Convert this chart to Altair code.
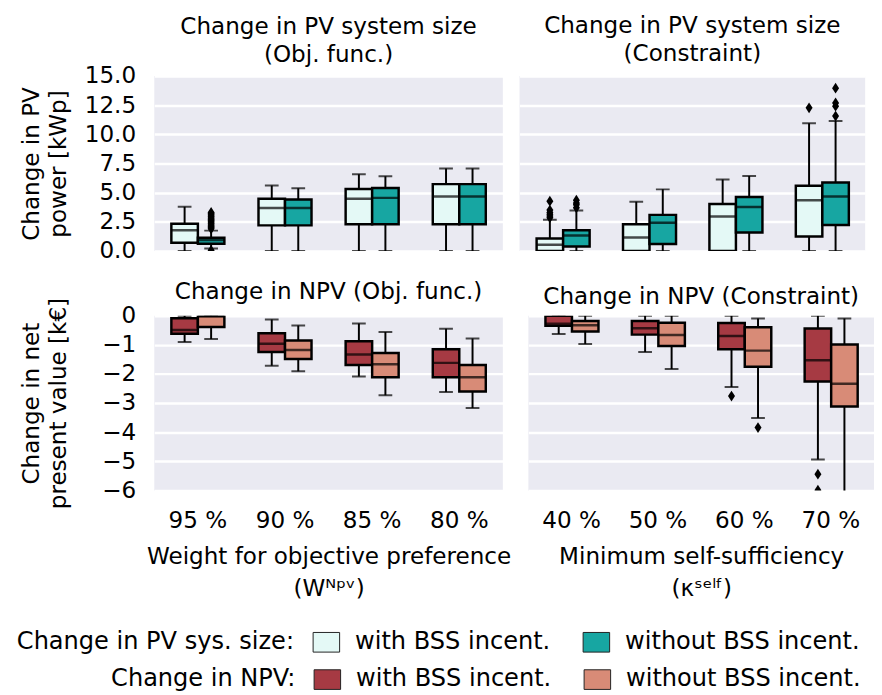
import altair as alt
import pandas as pd

FONT = "DejaVu Sans"
FS = 23.5
LFS = 24.5

cats_obj = ["95 %", "90 %", "85 %", "80 %"]
cats_con = ["40 %", "50 %", "60 %", "70 %"]
pv_hues = ["with BSS incent.", "without BSS incent."]
npv_hues = ["NPV with BSS incent.", "NPV without BSS incent."]

pv_colors = ["#e4f9f6", "#17a6a2"]
npv_colors = ["#a63a43", "#d88b77"]

# ---- Change in PV power [kWp], objective function ----
pv_obj_with = dict(lo=[0.0, 0.0, 0.0, 0.0], q1=[0.70, 2.19, 2.28, 2.28],
                   med=[1.77, 3.68, 4.47, 4.66], q3=[2.33, 4.47, 5.31, 5.73],
                   hi=[3.79, 5.62, 6.57, 7.08])
pv_obj_without = dict(lo=[0.2, 0.0, 0.0, 0.0], q1=[0.62, 2.19, 2.28, 2.28],
                      med=[0.93, 3.68, 4.55, 4.66], q3=[1.12, 4.41, 5.39, 5.73],
                      hi=[1.74, 5.37, 6.40, 7.08])
pv_obj_out_cat = ["95 %"] * 16
pv_obj_out_hue = [1] * 16
pv_obj_out_val = [0.05, 1.9, 2.0, 2.1, 2.2, 2.3, 2.4, 2.5, 2.6, 2.7, 2.8, 2.9, 3.0, 3.1, 3.2, 3.3]

# ---- Change in PV power [kWp], constraint ----
pv_con_with = dict(lo=[0.0, 0.0, 0.0, 0.0], q1=[0.0, 0.0, 0.0, 1.24],
                   med=[0.53, 1.15, 2.95, 4.35], q3=[1.07, 2.28, 4.02, 5.59],
                   hi=[2.67, 4.21, 6.12, 10.96])
pv_con_without = dict(lo=[0.0, 0.0, 0.0, 0.0], q1=[0.37, 0.59, 1.57, 2.22],
                      med=[1.32, 2.42, 3.76, 4.66], q3=[1.77, 3.09, 4.63, 5.87],
                      hi=[3.46, 5.28, 6.43, 11.15])
pv_con_out_cat = ["40 %"] * 6 + ["70 %"] + ["40 %"] * 4 + ["70 %"] * 4
pv_con_out_hue = [0] * 7 + [1] * 8
pv_con_out_val = [2.85, 3.0, 3.15, 3.3, 3.5, 4.27, 12.28,
                  3.7, 3.95, 4.1, 4.35, 11.57, 12.42, 12.70, 13.96]

# ---- Change in NPV [k€], objective function ----
npv_obj_with = dict(lo=[-0.90, -1.72, -2.09, -2.62], q1=[-0.62, -1.25, -1.69, -2.11],
                    med=[-0.49, -0.96, -1.33, -1.62], q3=[-0.09, -0.60, -0.88, -1.15],
                    hi=[0.0, -0.13, -0.27, -0.45])
npv_obj_without = dict(lo=[-0.80, -1.91, -2.73, -3.17], q1=[-0.39, -1.49, -2.11, -2.60],
                       med=[-0.02, -1.18, -1.67, -2.11], q3=[-0.01, -0.85, -1.28, -1.69],
                       hi=[0.0, -0.34, -0.56, -0.78])
npv_obj_out_cat = []
npv_obj_out_hue = []
npv_obj_out_val = []

# ---- Change in NPV [k€], constraint ----
npv_con_with = dict(lo=[-0.63, -1.25, -2.45, -4.94], q1=[-0.35, -0.65, -1.15, -2.26],
                    med=[-0.28, -0.43, -0.70, -1.53], q3=[0.0, -0.18, -0.25, -0.44],
                    hi=[0.0, 0.0, 0.0, 0.0])
npv_con_without = dict(lo=[-0.97, -1.83, -3.51, -6.6], q1=[-0.54, -1.04, -1.75, -3.12],
                       med=[-0.33, -0.66, -1.20, -2.34], q3=[-0.18, -0.24, -0.40, -0.99],
                       hi=[0.0, 0.0, -0.10, -0.10])
npv_con_out_cat = ["60 %", "70 %", "70 %", "60 %"]
npv_con_out_hue = [0, 0, 0, 1]
npv_con_out_val = [-2.76, -5.44, -5.99, -3.84]

pv_ticks = [0.0, 2.5, 5.0, 7.5, 10.0, 12.5, 15.0]
npv_ticks = [0, -1, -2, -3, -4, -5, -6]


def stats_frame(cats, with_s, without_s, hues):
    rows = []
    for hue, s in zip(hues, [with_s, without_s]):
        for i, c in enumerate(cats):
            rows.append({"cat": c, "hue": hue, "lo": s["lo"][i], "q1": s["q1"][i],
                         "med": s["med"][i], "q3": s["q3"][i], "hi": s["hi"][i]})
    return pd.DataFrame(rows)


def out_frame(cats, hidx, vals, hues):
    return pd.DataFrame({"cat": cats, "hue": [hues[i] for i in hidx], "value": vals})


def panel(stats, outs, cats, hues, ydom, yvals, yfmt, ytitle, left, bottom, xtitle,
          title, title_offset, chan, crange, legend, width):
    xaxis = None
    if bottom:
        xaxis = alt.Axis(title=xtitle, labelAngle=0, domain=False, ticks=False,
                         labelPadding=19, titlePadding=13, titleLineHeight=33,
                         labelFontSize=FS, titleFontSize=FS, titleFontWeight="normal",
                         labelFont=FONT, titleFont=FONT, labelColor="black",
                         titleColor="black", grid=False)
    x = alt.X("cat:N", sort=cats,
              scale=alt.Scale(domain=cats, paddingInner=0, paddingOuter=0),
              axis=xaxis)
    xo = alt.XOffset("hue:N", sort=hues,
                     scale=alt.Scale(domain=hues, paddingInner=0, paddingOuter=0.6435))
    if left:
        yaxis = alt.Axis(values=yvals, format=yfmt, title=ytitle, grid=True,
                         gridColor="white", gridWidth=2.5, domain=False, ticks=False,
                         labelPadding=19, minExtent=72, maxExtent=72, titlePadding=13,
                         labelFontSize=FS, titleFontSize=FS, titleFontWeight="normal",
                         titleLineHeight=28, labelFont=FONT, titleFont=FONT,
                         labelColor="black", titleColor="black")
    else:
        yaxis = alt.Axis(values=yvals, labels=False, ticks=False, domain=False,
                         title=None, grid=True, gridColor="white", gridWidth=2.5,
                         minExtent=0, maxExtent=0, labelPadding=0)
    yscale = alt.Scale(domain=ydom, nice=False, zero=False)

    base = alt.Chart(stats)
    whisker = base.mark_rule(color="black", strokeWidth=2, clip=True).encode(
        x=x, xOffset=xo,
        y=alt.Y("lo:Q", scale=yscale, axis=yaxis), y2="hi:Q")
    cap_lo = base.mark_tick(color="black", thickness=2, size=14, clip=True).encode(
        x=x, xOffset=xo, y=alt.Y("lo:Q", scale=yscale, axis=yaxis))
    cap_hi = base.mark_tick(color="black", thickness=2, size=14, clip=True).encode(
        x=x, xOffset=xo, y=alt.Y("hi:Q", scale=yscale, axis=yaxis))
    if chan == "fill":
        col = alt.Fill("hue:N", sort=hues,
                       scale=alt.Scale(domain=hues, range=crange), legend=legend)
    else:
        col = alt.Color("hue:N", sort=hues,
                        scale=alt.Scale(domain=hues, range=crange), legend=legend)
    box = base.mark_bar(stroke="black", strokeWidth=2.5, clip=True, opacity=1).encode(
        x=x, xOffset=xo,
        y=alt.Y("q1:Q", scale=yscale, axis=yaxis), y2="q3:Q",
        **{chan: col})
    median = base.mark_tick(color="black", thickness=2.5, size=27, clip=True).encode(
        x=x, xOffset=xo, y=alt.Y("med:Q", scale=yscale, axis=yaxis))
    layers = [whisker, cap_lo, cap_hi, box, median]
    if len(outs) > 0:
        pts = alt.Chart(outs).mark_point(
            shape="M0,-1L0.65,0L0,1L-0.65,0Z", filled=True, color="black",
            opacity=1, size=120, clip=True).encode(
            x=x, xOffset=xo, y=alt.Y("value:Q", scale=yscale, axis=yaxis))
        layers.append(pts)
    return alt.layer(*layers).properties(
        width=width, height=178,
        view=alt.ViewBackground(fill="#eaeaf2", strokeWidth=0),
        title=alt.TitleParams(text=title, fontSize=FS, fontWeight="normal",
                              lineHeight=28, offset=title_offset, anchor="middle",
                              font=FONT, color="black", frame="group"))


sym = "M-1.35,-1L1.35,-1L1.35,1L-1.35,1Z"
legend_common = dict(orient="none", direction="horizontal", titleOrient="left",
                     symbolType=sym, symbolSize=400, symbolStrokeColor="#222",
                     symbolStrokeWidth=1, labelFontSize=LFS, titleFontSize=LFS,
                     titleFontWeight="normal", labelOffset=17, columnPadding=30,
                     titlePadding=20, labelLimit=400, titleLimit=500,
                     labelFont=FONT, titleFont=FONT, labelColor="black",
                     titleColor="black", symbolOpacity=1,
                     labelExpr="replace(datum.label, 'NPV ', '')")
pv_legend = alt.Legend(title="Change in PV sys. size:", legendX=-140, legendY=564,
                       **legend_common)
npv_legend = alt.Legend(title="Change in NPV:", legendX=-44, legendY=602,
                        **legend_common)

tl = panel(stats_frame(cats_obj, pv_obj_with, pv_obj_without, pv_hues),
           out_frame(pv_obj_out_cat, pv_obj_out_hue, pv_obj_out_val, pv_hues),
           cats_obj, pv_hues, [0, 15], pv_ticks, ".1f", ["Change in PV", "power [kWp]"],
           True, False, None, ["Change in PV system size", "(Obj. func.)"], -2,
           "fill", pv_colors, pv_legend, 355)
tr = panel(stats_frame(cats_con, pv_con_with, pv_con_without, pv_hues),
           out_frame(pv_con_out_cat, pv_con_out_hue, pv_con_out_val, pv_hues),
           cats_con, pv_hues, [0, 15], pv_ticks, ".1f", None,
           False, False, None, ["Change in PV system size", "(Constraint)"], 11,
           "fill", pv_colors, pv_legend, 352)
bl = panel(stats_frame(cats_obj, npv_obj_with, npv_obj_without, npv_hues),
           out_frame(npv_obj_out_cat, npv_obj_out_hue, npv_obj_out_val, npv_hues),
           cats_obj, npv_hues, [-6, 0], npv_ticks, "d",
           ["Change in net", "present value [k€]"],
           True, True, ["Weight for objective preference", "(Wᴺᵖᵛ)"],
           "Change in NPV (Obj. func.)", -6, "color", npv_colors, npv_legend, 355)
br = panel(stats_frame(cats_con, npv_con_with, npv_con_without, npv_hues),
           out_frame(npv_con_out_cat, npv_con_out_hue, npv_con_out_val, npv_hues),
           cats_con, npv_hues, [-6, 0], npv_ticks, "d", None,
           False, True, ["Minimum self-sufficiency", "(κˢᵉˡᶠ)"],
           "Change in NPV (Constraint)", 7, "color", npv_colors, npv_legend, 352)

top = alt.hconcat(tl, tr, spacing=17)
bottom = alt.hconcat(bl, br, spacing=17)

chart = alt.vconcat(top, bottom, spacing=17).resolve_scale(
    xOffset="independent", x="independent"
).properties(
    padding={"left": 9, "top": 0, "right": 0, "bottom": 0},
    background="white"
).configure_view(
    strokeWidth=0
).configure_title(
    font=FONT, color="black"
)

chart.save("out.html", embed_options={"renderer": "svg", "actions": False})
